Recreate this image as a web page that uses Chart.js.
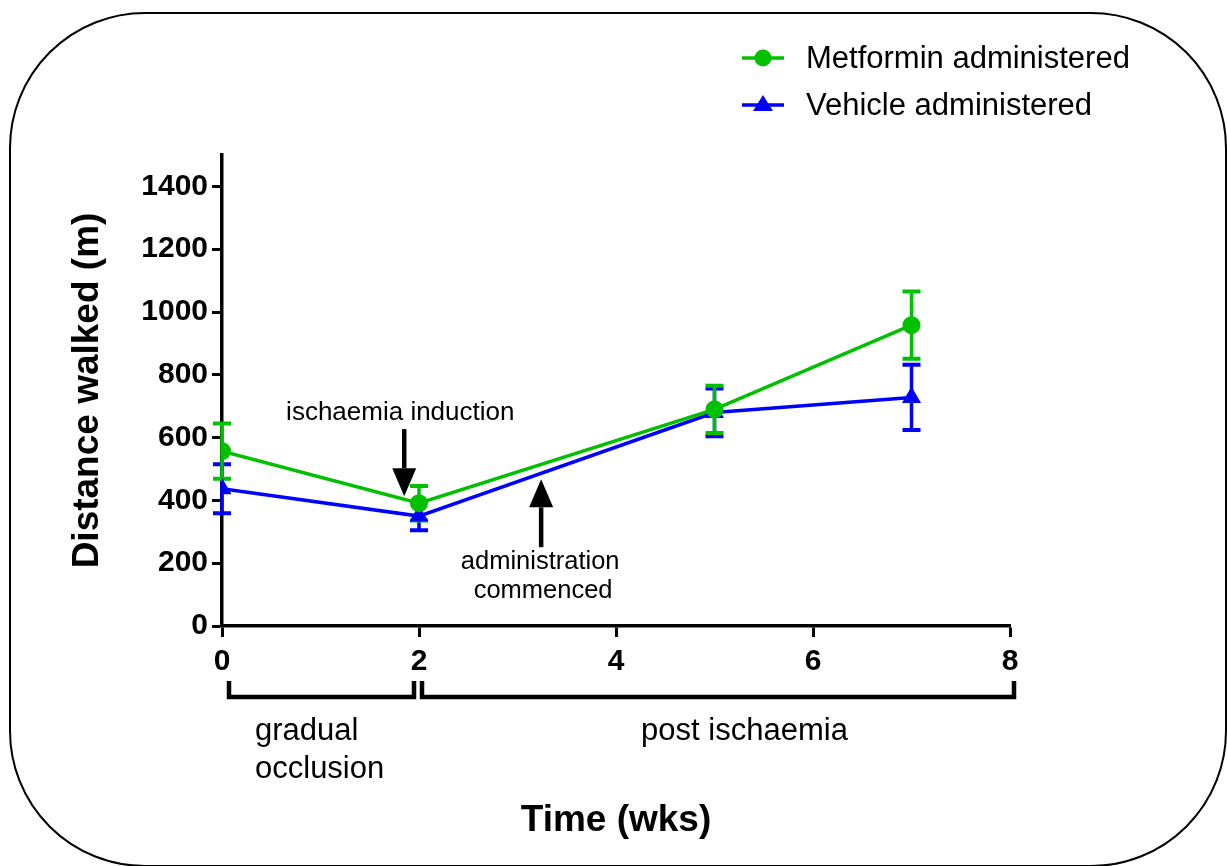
<!DOCTYPE html>
<html><head><meta charset="utf-8">
<script src="https://cdn.jsdelivr.net/npm/chart.js@4.4.1/dist/chart.umd.min.js"></script>
<style>html,body{margin:0;padding:0;background:#fff;}canvas{display:block;}</style>
</head><body>
<canvas id="c" width="1227" height="866"></canvas>
<script>
// ---- data ----
const weeks = [0, 2, 5, 7];
const metforminMean = [557, 391, 690, 958];
const metforminErr = [88, 55, 75, 107];
const vehicleMean = [437, 350, 680, 728];
const vehicleErr = [78, 45, 76, 104];
const xTickValues = [0, 2, 4, 6, 8];
const yTickValues = [0, 200, 400, 600, 800, 1000, 1200, 1400];
const seriesLabels = ['Metformin administered', 'Vehicle administered'];
const xTitle = 'Time (wks)';
const yTitle = 'Distance walked (m)';
const phaseLabels = [['gradual', 'occlusion'], ['post ischaemia']];
const eventLabels = [['ischaemia induction'], ['administration', 'commenced']];

const FONT = "'Liberation Sans', Arial, Helvetica, sans-serif";
const GREEN = '#00c000';
const BLUE = '#0000ff';

const errorsByDataset = [metforminErr, vehicleErr];

const frame = {
  id: 'frame',
  beforeDraw(chart) {
    const ctx = chart.ctx;
    ctx.save();
    ctx.fillStyle = '#fff';
    ctx.fillRect(0, 0, chart.width, chart.height);
    ctx.strokeStyle = '#000';
    ctx.lineWidth = 2;
    ctx.beginPath();
    ctx.roundRect(10, 13, 1216, 853, 135);
    ctx.stroke();
    ctx.restore();
  }
};

const errorBars = {
  id: 'errorBars',
  beforeDatasetsDraw(chart) {
    const ctx = chart.ctx;
    const xs = chart.scales.x, ys = chart.scales.y;
    ctx.save();
    for (let d = chart.data.datasets.length - 1; d >= 0; d--) {
      const ds = chart.data.datasets[d];
      const err = errorsByDataset[d];
      ctx.strokeStyle = ds.borderColor;
      ds.data.forEach((p, i) => {
        const x = xs.getPixelForValue(p.x);
        const yt = ys.getPixelForValue(p.y + err[i]);
        const yb = ys.getPixelForValue(p.y - err[i]);
        ctx.lineWidth = 3.5;
        ctx.beginPath(); ctx.moveTo(x, yt); ctx.lineTo(x, yb); ctx.stroke();
        ctx.lineWidth = 4;
        ctx.beginPath();
        ctx.moveTo(x - 9, yt); ctx.lineTo(x + 9, yt);
        ctx.moveTo(x - 9, yb); ctx.lineTo(x + 9, yb);
        ctx.stroke();
      });
    }
    ctx.restore();
  }
};

function arrow(ctx, x, yFrom, yTip) {
  const dir = yTip > yFrom ? 1 : -1;
  const headH = 28, headW = 24;
  ctx.lineWidth = 4.5;
  ctx.beginPath();
  ctx.moveTo(x, yFrom);
  ctx.lineTo(x, yTip - dir * headH);
  ctx.stroke();
  ctx.beginPath();
  ctx.moveTo(x, yTip);
  ctx.lineTo(x - headW / 2, yTip - dir * headH);
  ctx.lineTo(x + headW / 2, yTip - dir * headH);
  ctx.closePath();
  ctx.fill();
}

const annotations = {
  id: 'annotations',
  afterDraw(chart) {
    const ctx = chart.ctx;
    const xs = chart.scales.x, ys = chart.scales.y;
    const X = v => xs.getPixelForValue(v), Y = v => ys.getPixelForValue(v);
    ctx.save();
    ctx.fillStyle = '#000';
    ctx.strokeStyle = '#000';
    // event annotations
    ctx.font = '26px ' + FONT;
    ctx.textAlign = 'center';
    ctx.textBaseline = 'alphabetic';
    ctx.fillText(eventLabels[0][0], X(1.81), Y(655));
    arrow(ctx, X(1.85), Y(627), Y(413));
    ctx.font = '25.5px ' + FONT;
    ctx.fillText(eventLabels[1][0], X(3.23), Y(183));
    ctx.fillText(eventLabels[1][1], X(3.26), Y(88));
    arrow(ctx, X(3.24), Y(251), Y(467));

    // phase brackets below the x axis
    const by = xs.top + 71, bt = xs.top + 55;
    ctx.lineWidth = 4.5;
    ctx.lineCap = 'butt';
    ctx.beginPath();
    ctx.moveTo(X(0) + 7, bt); ctx.lineTo(X(0) + 7, by); ctx.lineTo(X(2) - 5, by); ctx.lineTo(X(2) - 5, bt);
    ctx.stroke();
    ctx.beginPath();
    ctx.moveTo(X(2) + 3, bt); ctx.lineTo(X(2) + 3, by); ctx.lineTo(X(8) + 4, by); ctx.lineTo(X(8) + 4, bt);
    ctx.stroke();
    ctx.font = '31px ' + FONT;
    ctx.textAlign = 'left';
    ctx.fillText(phaseLabels[0][0], X(0) + 33, xs.top + 114);
    ctx.fillText(phaseLabels[0][1], X(0) + 33, xs.top + 152);
    ctx.textAlign = 'center';
    ctx.fillText(phaseLabels[1][0], (X(2) + X(8)) / 2 + 30, xs.top + 114);

    // legend
    ctx.font = '31px ' + FONT;
    ctx.textAlign = 'left';
    ctx.textBaseline = 'middle';
    chart.data.datasets.forEach((ds, i) => {
      const ly = 58 + i * 47;
      ctx.strokeStyle = ds.borderColor;
      ctx.fillStyle = ds.borderColor;
      ctx.lineWidth = 3.5;
      ctx.beginPath(); ctx.moveTo(742, ly); ctx.lineTo(784, ly); ctx.stroke();
      ctx.beginPath();
      if (ds.pointStyle === 'triangle') {
        ctx.moveTo(763, ly - 10); ctx.lineTo(773, ly + 6); ctx.lineTo(753, ly + 6); ctx.closePath();
      } else {
        ctx.arc(763, ly, 8.5, 0, Math.PI * 2);
      }
      ctx.fill();
      ctx.fillStyle = '#000';
      ctx.fillText(ds.label, 806, ly + 1);
    });
    ctx.restore();
  }
};

new Chart(document.getElementById('c'), {
  type: 'line',
  data: {
    datasets: [
      {
        label: seriesLabels[0],
        data: weeks.map((w, i) => ({x: w, y: metforminMean[i]})),
        borderColor: GREEN, backgroundColor: GREEN,
        borderWidth: 3.5, pointStyle: 'circle', pointRadius: 9,
        pointBorderWidth: 0, tension: 0
      },
      {
        label: seriesLabels[1],
        data: weeks.map((w, i) => ({x: w, y: vehicleMean[i]})),
        borderColor: BLUE, backgroundColor: BLUE,
        borderWidth: 3.5, pointStyle: 'triangle', pointRadius: 11,
        pointBorderWidth: 0, tension: 0
      }
    ]
  },
  options: {
    responsive: false,
    animation: false,
    devicePixelRatio: 1,
    layout: {padding: {left: 66, top: 155, right: 217, bottom: 23}},
    plugins: {legend: {display: false}, tooltip: {enabled: false}},
    scales: {
      x: {
        type: 'linear', min: 0, max: 8,
        afterBuildTicks: s => { s.ticks = xTickValues.map(v => ({value: v})); },
        afterFit: s => { s.height = 217; },
        grid: {drawOnChartArea: false, tickLength: 11, tickWidth: 3, tickColor: '#000'},
        border: {display: true, color: '#000', width: 3.5},
        ticks: {color: '#000', padding: 7, font: {family: FONT, size: 30, weight: 'bold'}, maxRotation: 0,
                callback: v => String(v)},
        title: {display: true, text: xTitle, color: '#000', padding: 0,
                font: {family: FONT, size: 37, weight: 'bold', lineHeight: 1.2}}
      },
      y: {
        type: 'linear', min: 0, max: 1500,
        afterBuildTicks: s => { s.ticks = yTickValues.map(v => ({value: v})); },
        afterFit: s => { s.width = 156; },
        grid: {drawOnChartArea: false, tickLength: 10, tickWidth: 3, tickColor: '#000'},
        border: {display: true, color: '#000', width: 3.5},
        ticks: {color: '#000', padding: 4, font: {family: FONT, size: 30, weight: 'bold'},
                callback: v => String(v)},
        title: {display: true, text: yTitle, color: '#000', padding: 0,
                font: {family: FONT, size: 37, weight: 'bold', lineHeight: 1.2}}
      }
    }
  },
  plugins: [frame, errorBars, annotations]
});
</script>
</body></html>
